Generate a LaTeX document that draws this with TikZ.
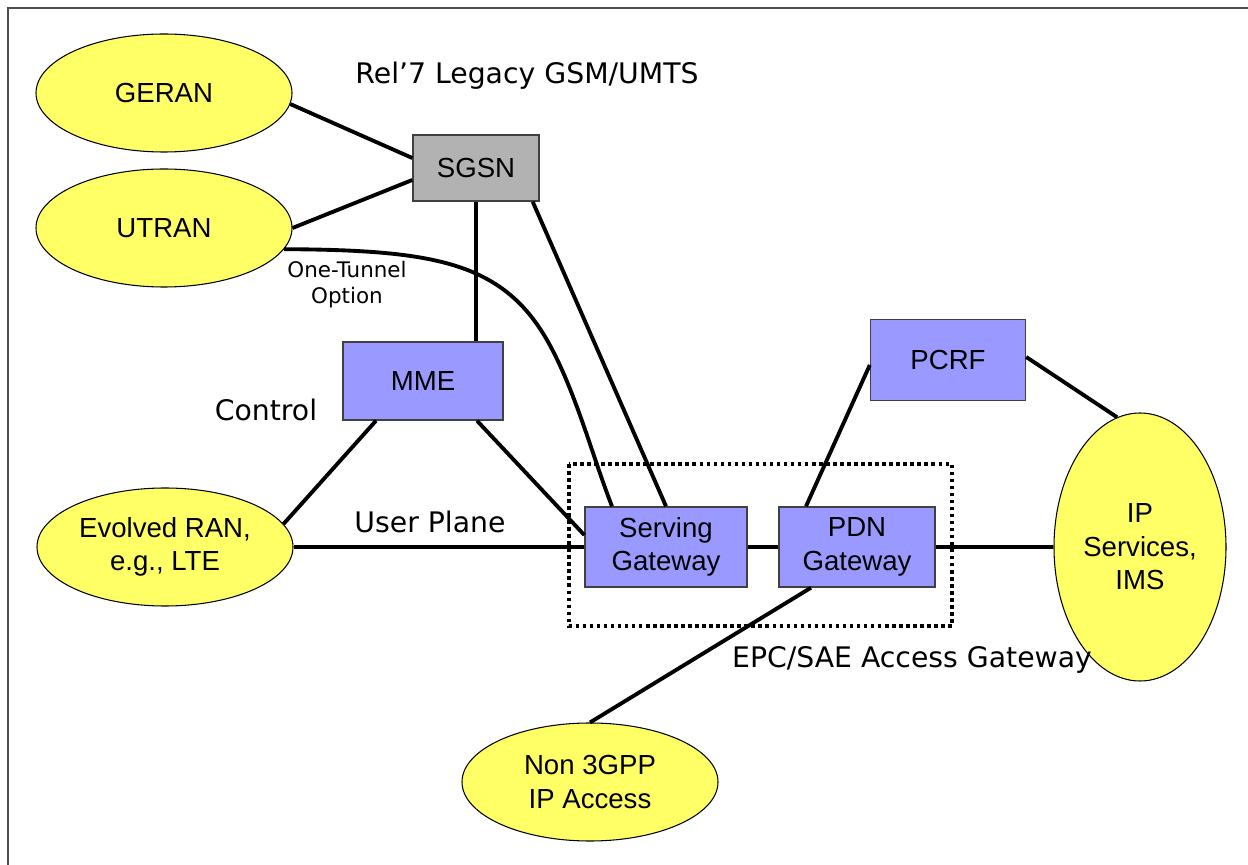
\documentclass[tikz,border=0pt]{standalone}
\usepackage{fontspec}
\setmainfont{Liberation Sans}
\newfontfamily\labelfont{DejaVu Sans}
\usepackage{xcolor}
\usetikzlibrary{shapes.geometric}
\definecolor{ranyellow}{HTML}{FFFF66}
\definecolor{gwblue}{HTML}{9999FF}
\definecolor{sgsngrey}{HTML}{B2B2B2}
\newcommand\nodesize{\fontsize{15.7pt}{19pt}\selectfont}
\newcommand\tagsize{\labelfont\fontsize{16.1pt}{18pt}\selectfont}
\newcommand\notesize{\labelfont\fontsize{12.2pt}{14.8pt}\selectfont}

\begin{document}
\begin{tikzpicture}[every node/.style={font=\nodesize},
  ran/.style={draw, fill=ranyellow, ellipse, line width=0.6pt, inner sep=0pt, align=center, minimum width=5.12cm, minimum height=2.36cm},
  box/.style={draw=black!75, fill=gwblue, line width=0.8pt, inner sep=0pt, align=center},
  link/.style={line width=2.2pt}]
  \useasboundingbox (0,0) rectangle (24.96,-17.3);
  \draw[black!70, line width=0.8pt] (0.16,-17.3) -- (0.16,-0.16) -- (24.96,-0.16);

  % access networks
  \node[ran] (geran) at (3.28,-1.86) {GERAN};
  \node[ran] (utran) at (3.28,-4.56) {UTRAN};
  \node[ran] (eran) at (3.30,-10.94) {Evolved RAN,\\e.g., LTE};
  \node[ran] (non3gpp) at (11.8,-15.64) {Non 3GPP\\IP Access};
  \node[ran, minimum width=3.44cm, minimum height=5.36cm] (ims) at (22.8,-10.94) {IP\\Services,\\IMS};

  % core boxes
  \node[box, fill=sgsngrey, minimum width=2.52cm, minimum height=1.32cm] (sgsn) at (9.52,-3.36) {SGSN};
  \node[box, minimum width=3.2cm, minimum height=1.56cm] (mme) at (8.46,-7.62) {MME};
  \node[box, minimum width=3.1cm, minimum height=1.62cm] (pcrf) at (18.96,-7.2) {PCRF};
  \node[box, minimum width=3.24cm, minimum height=1.6cm] (sgw) at (13.32,-10.94) {Serving\\Gateway};
  \node[box, minimum width=3.12cm, minimum height=1.6cm] (pdn) at (17.14,-10.94) {PDN\\Gateway};
  \draw[line width=2pt, dash pattern=on 2pt off 2pt] (11.38,-9.28) rectangle (19.04,-12.52);

  % free labels
  \node[font=\tagsize] (legacy) at (10.54,-1.52) {Rel’7 Legacy GSM/UMTS};
  \node[font=\notesize, align=center] (tunnel) at (6.94,-5.7) {One-Tunnel\\Option};
  \node[font=\tagsize] (control) at (5.32,-8.2) {Control};
  \node[font=\tagsize] (userplane) at (8.6,-10.44) {User Plane};
  \node[font=\tagsize] (epc) at (18.24,-13.2) {EPC/SAE Access Gateway};

  % connections
  \draw[link] (geran.-5) -- ([yshift=0.2cm]sgsn.west);
  \draw[link] (utran.0) -- ([yshift=-0.24cm]sgsn.west);
  \draw[link] (sgsn.south) -- (sgsn.south |- mme.north);
  \draw[link] ([xshift=-0.14cm]sgsn.south east) -- (sgw.north);
  \draw[link] (utran.-10) .. controls (8.68,-5.0) and (10.04,-5.24) .. (10.94,-6.8)
    .. controls (11.5,-7.78) and (11.86,-9.16) .. ([xshift=-1.08cm]sgw.north);
  \draw[link] ([xshift=-0.94cm]mme.south) -- (eran.11);
  \draw[link] ([xshift=1.08cm]mme.south) -- ([yshift=0.24cm]sgw.west);
  \draw[link] (eran) -- (sgw);
  \draw[link] (sgw) -- (pdn);
  \draw[link] (pdn) -- (ims);
  \draw[link] ([yshift=-0.1cm]pcrf.west) -- ([xshift=-1.02cm]pdn.north);
  \draw[link] ([yshift=0.06cm]pcrf.east) -- (ims.100);
  \draw[link] ([xshift=-0.92cm]pdn.south) -- (non3gpp.north);
\end{tikzpicture}
\end{document}
